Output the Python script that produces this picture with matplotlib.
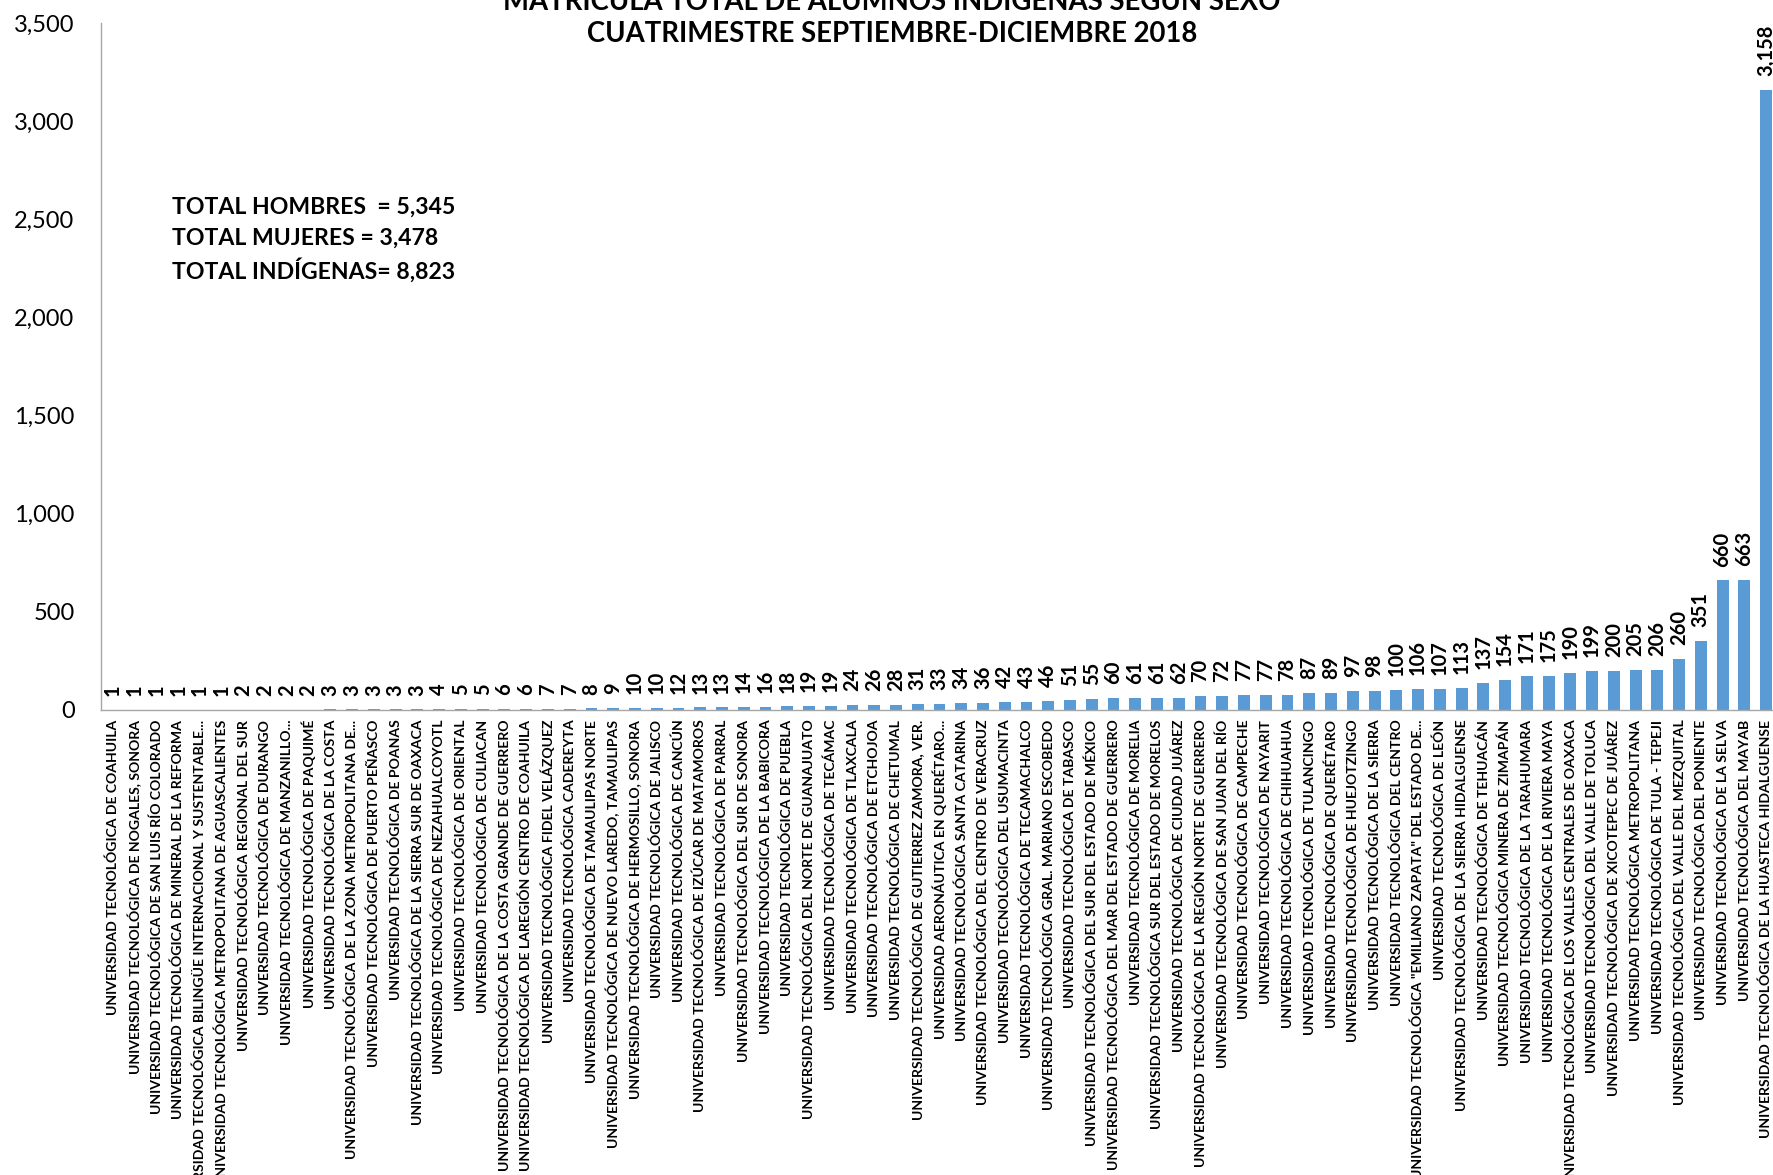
import matplotlib
matplotlib.use("Agg")
import matplotlib.pyplot as plt
from matplotlib.ticker import FuncFormatter, MultipleLocator

plt.rcParams['font.family'] = ['Lato', 'DejaVu Sans']

### DATA

universidades = [
    "UNIVERSIDAD TECNOLÓGICA DE COAHUILA",
    "UNIVERSIDAD TECNOLÓGICA DE NOGALES, SONORA",
    "UNIVERSIDAD TECNOLÓGICA DE SAN LUIS RÍO COLORADO",
    "UNIVERSIDAD TECNOLÓGICA DE MINERAL DE LA REFORMA",
    "UNIVERSIDAD TECNOLÓGICA BILINGÜE INTERNACIONAL Y SUSTENTABLE...",
    "UNIVERSIDAD TECNOLÓGICA METROPOLITANA DE AGUASCALIENTES",
    "UNIVERSIDAD TECNOLÓGICA REGIONAL DEL SUR",
    "UNIVERSIDAD TECNOLÓGICA DE DURANGO",
    "UNIVERSIDAD TECNOLÓGICA DE MANZANILLO...",
    "UNIVERSIDAD TECNOLÓGICA DE PAQUIMÉ",
    "UNIVERSIDAD TECNOLÓGICA DE LA COSTA",
    "UNIVERSIDAD TECNOLÓGICA DE LA ZONA METROPOLITANA DE...",
    "UNIVERSIDAD TECNOLÓGICA DE PUERTO PEÑASCO",
    "UNIVERSIDAD TECNOLÓGICA DE POANAS",
    "UNIVERSIDAD TECNOLÓGICA DE LA SIERRA SUR DE OAXACA",
    "UNIVERSIDAD TECNOLÓGICA DE NEZAHUALCOYOTL",
    "UNIVERSIDAD TECNOLÓGICA DE ORIENTAL",
    "UNIVERSIDAD TECNOLÓGICA DE CULIACAN",
    "UNIVERSIDAD TECNOLÓGICA DE LA COSTA GRANDE DE GUERRERO",
    "UNIVERSIDAD TECNOLÓGICA DE LAREGIÓN CENTRO DE COAHUILA",
    "UNIVERSIDAD TECNOLÓGICA FIDEL VELÁZQUEZ",
    "UNIVERSIDAD TECNOLÓGICA CADEREYTA",
    "UNIVERSIDAD TECNOLÓGICA DE TAMAULIPAS NORTE",
    "UNIVERSIDAD TECNOLÓGICA DE NUEVO LAREDO, TAMAULIPAS",
    "UNIVERSIDAD TECNOLÓGICA DE HERMOSILLO, SONORA",
    "UNIVERSIDAD TECNOLÓGICA DE JALISCO",
    "UNIVERSIDAD TECNOLÓGICA DE CANCÚN",
    "UNIVERSIDAD TECNOLÓGICA DE IZÚCAR DE MATAMOROS",
    "UNIVERSIDAD TECNOLÓGICA DE PARRAL",
    "UNIVERSIDAD TECNOLÓGICA DEL SUR DE SONORA",
    "UNIVERSIDAD TECNOLÓGICA DE LA BABICORA",
    "UNIVERSIDAD TECNOLÓGICA DE PUEBLA",
    "UNIVERSIDAD TECNOLÓGICA DEL NORTE DE GUANAJUATO",
    "UNIVERSIDAD TECNOLÓGICA DE TECÁMAC",
    "UNIVERSIDAD TECNOLÓGICA DE TLAXCALA",
    "UNIVERSIDAD TECNOLÓGICA DE ETCHOJOA",
    "UNIVERSIDAD TECNOLÓGICA DE CHETUMAL",
    "UNIVERSIDAD TECNOLÓGICA DE GUTIERREZ ZAMORA, VER.",
    "UNIVERSIDAD AERONÁUTICA EN QUERÉTARO...",
    "UNIVERSIDAD TECNOLÓGICA SANTA CATARINA",
    "UNIVERSIDAD TECNOLÓGICA DEL CENTRO DE VERACRUZ",
    "UNIVERSIDAD TECNOLÓGICA DEL USUMACINTA",
    "UNIVERSIDAD TECNOLÓGICA DE TECAMACHALCO",
    "UNIVERSIDAD TECNOLÓGICA GRAL. MARIANO ESCOBEDO",
    "UNIVERSIDAD TECNOLÓGICA DE TABASCO",
    "UNIVERSIDAD TECNOLÓGICA DEL SUR DEL ESTADO DE MÉXICO",
    "UNIVERSIDAD TECNOLÓGICA DEL MAR DEL ESTADO DE GUERRERO",
    "UNIVERSIDAD TECNOLÓGICA DE MORELIA",
    "UNIVERSIDAD TECNOLÓGICA SUR DEL ESTADO DE MORELOS",
    "UNIVERSIDAD TECNOLÓGICA DE CIUDAD JUÁREZ",
    "UNIVERSIDAD TECNOLÓGICA DE LA REGIÓN NORTE DE GUERRERO",
    "UNIVERSIDAD TECNOLÓGICA DE SAN JUAN DEL RÍO",
    "UNIVERSIDAD TECNOLÓGICA DE CAMPECHE",
    "UNIVERSIDAD TECNOLÓGICA DE NAYARIT",
    "UNIVERSIDAD TECNOLÓGICA DE CHIHUAHUA",
    "UNIVERSIDAD TECNOLÓGICA DE TULANCINGO",
    "UNIVERSIDAD TECNOLÓGICA DE QUERÉTARO",
    "UNIVERSIDAD TECNOLÓGICA DE HUEJOTZINGO",
    "UNIVERSIDAD TECNOLÓGICA DE LA SIERRA",
    "UNIVERSIDAD TECNOLÓGICA DEL CENTRO",
    "UNIVERSIDAD TECNOLÓGICA \"EMILIANO ZAPATA\" DEL ESTADO DE...",
    "UNIVERSIDAD TECNOLÓGICA DE LEÓN",
    "UNIVERSIDAD TECNOLÓGICA DE LA SIERRA HIDALGUENSE",
    "UNIVERSIDAD TECNOLÓGICA DE TEHUACÁN",
    "UNIVERSIDAD TECNOLÓGICA MINERA DE ZIMAPÁN",
    "UNIVERSIDAD TECNOLÓGICA DE LA TARAHUMARA",
    "UNIVERSIDAD TECNOLÓGICA DE LA RIVIERA MAYA",
    "UNIVERSIDAD TECNOLÓGICA DE LOS VALLES CENTRALES DE OAXACA",
    "UNIVERSIDAD TECNOLÓGICA DEL VALLE DE TOLUCA",
    "UNIVERSIDAD TECNOLÓGICA DE XICOTEPEC DE JUÁREZ",
    "UNIVERSIDAD TECNOLÓGICA METROPOLITANA",
    "UNIVERSIDAD TECNOLÓGICA DE TULA - TEPEJI",
    "UNIVERSIDAD TECNOLÓGICA DEL VALLE DEL MEZQUITAL",
    "UNIVERSIDAD TECNOLÓGICA DEL PONIENTE",
    "UNIVERSIDAD TECNOLÓGICA DE LA SELVA",
    "UNIVERSIDAD TECNOLÓGICA DEL MAYAB",
    "UNIVERSIDAD TECNOLÓGICA DE LA HUASTECA HIDALGUENSE",
]

alumnos = [1, 1, 1, 1, 1, 1, 2, 2, 2, 2, 3, 3, 3, 3, 3, 4, 5, 5, 6, 6,
           7, 7, 8, 9, 10, 10, 12, 13, 13, 14, 16, 18, 19, 19, 24, 26, 28, 31, 33, 34,
           36, 42, 43, 46, 51, 55, 60, 61, 61, 62, 70, 72, 77, 77, 78, 87, 89, 97, 98, 100,
           106, 107, 113, 137, 154, 171, 175, 190, 199, 200, 205, 206, 260, 351, 660, 663, 3158]

total_hombres = 5345
total_mujeres = 3478
total_indigenas = 8823

titulo_1 = "MATRÍCULA TOTAL DE ALUMNOS INDÍGENAS SEGÚN SEXO"
titulo_2 = "CUATRIMESTRE SEPTIEMBRE-DICIEMBRE 2018"

### PLOT

fig = plt.figure(figsize=(17.73, 11.75), dpi=100)
# axes runs slightly past the right edge like in the original
ax = fig.add_axes([101 / 1773, 465 / 1175, 1677 / 1773, 687 / 1175])

x = list(range(len(alumnos)))
ax.bar(x, alumnos, width=0.55, color='#5B9BD5', zorder=2)

# value labels on top of each bar
for i, v in enumerate(alumnos):
    ax.annotate(f"{v:,}", (i, v), xytext=(0, 10), textcoords='offset points',
                rotation=90, ha='center', va='bottom', fontsize=14.5, fontweight='bold')

ax.set_xlim(-0.55, len(alumnos) - 0.45)
ax.set_ylim(0, 3500)
ax.yaxis.set_major_locator(MultipleLocator(500))
ax.yaxis.set_major_formatter(FuncFormatter(lambda val, pos: f"{val:,.0f}"))
ax.tick_params(axis='y', length=0, pad=19, labelsize=17)
ax.tick_params(axis='x', length=0, pad=7)

ax.set_xticks(x)
ax.set_xticklabels(universidades, rotation=90, ha='center', va='top',
                   fontsize=10.1, fontweight='bold')

for side in ['top', 'right']:
    ax.spines[side].set_visible(False)
for side in ['left', 'bottom']:
    ax.spines[side].set_color('#A6A6A6')
    ax.spines[side].set_linewidth(1.0)

# title (first line is partly cut off at the top like in the original)
fig.text(0.503, 0.999, titulo_1, ha='center', va='center', fontsize=19.8, fontweight='bold')
fig.text(0.503, 0.971, titulo_2, ha='center', va='center', fontsize=19.8, fontweight='bold')

# totals box
fig.text(0.097, 0.824, f"TOTAL HOMBRES  = {total_hombres:,}", ha='left', va='center',
         fontsize=16.6, fontweight='bold')
fig.text(0.097, 0.797, f"TOTAL MUJERES = {total_mujeres:,}", ha='left', va='center',
         fontsize=16.6, fontweight='bold')
fig.text(0.097, 0.770, f"TOTAL INDÍGENAS= {total_indigenas:,}", ha='left', va='center',
         fontsize=16.6, fontweight='bold')

fig.savefig("out.png", dpi=100)
